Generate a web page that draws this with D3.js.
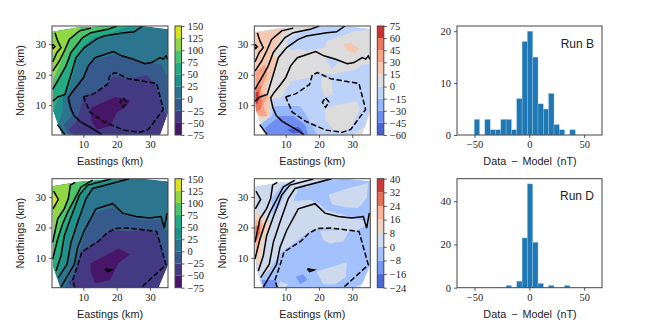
<!DOCTYPE html>
<html>
<head>
<meta charset="utf-8">
<script src="https://cdn.jsdelivr.net/npm/d3@7"></script>
<style>
  html, body { margin: 0; padding: 0; background: white; }
  svg { display: block; }
  .tick text { font-family: "Liberation Serif", serif; font-size: 10.5px; fill: #222; }
  .domain { display: none; }
  .tick line { stroke: #333; stroke-width: 0.8; }
  .lab { font-family: "Liberation Sans", sans-serif; font-size: 10.8px; fill: #222; }
</style>
</head>
<body>
<div id="chart"></div>
<script>
// colour bands, low to high (band midpoints of each colormap)
var viridisBands = [0, 1, 2, 3, 4, 5, 6, 7, 8].map(function(i) { return d3.interpolateViridis((i + .5) / 9) })
var warmBands9 = ["#4a62d2", "#6e8ff1", "#97b7fd", "#bcd2f8", "#dddcdc", "#f5c8b2", "#f6a385", "#e9785d", "#c83232"]
var warmBands8 = ["#4e67d5", "#7698f5", "#a3c1fc", "#cdd9ec", "#eed3c4", "#f7b496", "#e67056", "#cc3c37"]

var levelsField = [-75, -50, -25, 0, 25, 50, 75, 100, 125, 150]
var levelsResB = [-60, -45, -30, -15, 0, 15, 30, 45, 60, 75]
var levelsResD = [-24, -16, -8, 0, 8, 16, 24, 32, 40]

// histograms
var binEdges = [-50.3, -45.4, -40.6, -35.7, -30.9, -26, -21.2, -16.3, -11.5, -6.6, -1.8, 3.1, 7.9, 12.8, 17.6, 22.5, 27.3, 32.2, 37, 41.9]
var countsB = [3, 0, 3, 1, 1, 3, 3, 1, 7, 18, 20, 15, 6, 5, 8, 2, 1, 0, 1]
var countsD = [0, 0, 0, 0, 0, 0, 1, 0, 3, 23, 48, 21, 2, 0, 1, 0, 0, 1, 0]

// contour lines in km, run B
var lineB0 = [[15.5,0.3],[13.5,1.8],[9,4.7],[7.2,6.6],[6.2,9.1],[5.5,12.4],[6.5,14.1],[8.5,16.8],[10,19],[11.5,22.9],[13.5,25.6],[19,27.6],[21.5,26.2],[25,25.1],[28.5,23.6],[30.5,24],[33,25.6],[34,25.1],[34.8,26.2],[35.3,25]]
var lineB1 = [[0.8,11.3],[2.3,12.7],[4.5,13.5],[5.1,15.7],[6.3,20.1],[7.8,25.6],[10.3,28.9],[13.8,31.6],[16.3,32.7],[22.3,33.8],[25.3,34.1],[27.8,36]]
var lineB1b = [[2.2,3.6],[4.5,0.3]]
var lineB2 = [[0.8,15.2],[2.8,19],[4.8,22.9],[6.3,27.3],[9.8,32.2],[12.3,33.8],[17.3,34.9],[20.1,36]]
var lineB3 = [[0.8,21.2],[2.8,24.5],[4.3,27.8],[5.8,31.6],[8.8,34.4],[12.3,35.3]]
var lineB4 = [[0.8,24.2],[2.1,27.3],[3.3,28.9],[2.3,31.1],[1.5,33.8]]
var loopB = [[0.8,30],[1.5,29.2],[1,28.6],[0.6,29.2],[0.8,30]]
var dashB = [[10,12.7],[13,13.7],[17.2,16.8],[18,19.9],[19.5,20.7],[23.5,18.7],[32,17.1],[34,8.6],[29.5,2],[27,1.1],[22,1.8],[16,4.7],[12,7.7],[10,12.7]]
var diamondB = [[22,12.4],[23,11],[22,9.3],[21,11],[22,12.4]]

// contour lines in km, run D
var lineD0 = [[3.3,0.4],[7.3,7.9],[8.3,13.4],[10.3,19],[13.8,26.1],[18.8,27.8],[21.8,24.7],[25.8,23.6],[29.8,23.1],[33.3,23.6],[34.3,19.8],[35.1,24.7]]
var lineD1 = [[2.5,3.5],[5.1,7.9],[6.3,15.1],[8.3,21.7],[10.8,29.5],[12.8,32.8],[17.3,34.1],[23.8,36]]
var lineD2 = [[1.8,5.7],[3.3,10.7],[4.3,17.3],[6.3,23.4],[8.8,30.6],[11.3,33.9],[18.3,35.9]]
var lineD3 = [[0.8,9.6],[2.3,16.2],[3.8,21.2],[5.3,25],[9.3,33.3],[12.8,35.5]]
var lineD4 = [[0.8,15.1],[2.3,22.8],[4.3,26.2],[5.5,29.5],[6.1,33.9],[7.5,34.8]]
var lineD5 = [[1.1,31.9],[2.5,29.2],[0.9,26.1]]
var dashD = [[7.5,0.2],[6.8,2.7],[8.5,8.2],[9.5,11.9],[14.5,15.4],[17,18.1],[19.5,19.6],[23.5,19.8],[32,18.7],[34.8,7.7],[28,0.9],[27,0.2]]
var spotD = [[16.5,6.4],[18.5,6],[17.2,5.5],[16.5,6.4]]

// data hulls
var hullB = [[0.8,34.1],[8.5,35.5],[20,36],[28,36],[35.4,35],[35.4,7.5],[33,0.3],[3.5,0.3],[1,8]]
var hullD = [[0.8,33.5],[9,35],[20,36],[28,36],[35.4,35.2],[35.4,7.7],[32.5,0.2],[3,0.2],[1,7]]

// filled bands, run B total field
var fieldB = [
  [3, hullB],
  [4, [[2.5,3.6],[3.8,8.4],[3.8,12.7],[5.5,14.6],[6.5,18.5],[8.2,25],[11.5,30],[16,32],[23,33.6],[27,35.3],[29,36],[0,36],[0,3.6]]],
  [5, [[1.2,8.5],[2.2,11.3],[4.5,14.1],[5.3,16.8],[6.5,21.2],[8,26.2],[10.5,30],[13,32.2],[19,34],[24,36],[0,36],[0,8.5]]],
  [6, [[0.8,14.6],[3,19],[4.7,22.3],[6.2,27.3],[9.5,31.4],[12.5,33.6],[17,34.7],[20,36],[0,36],[0,14.6]]],
  [7, [[0.8,17.9],[2.8,22.9],[4.5,27.8],[5.7,31.1],[9,34.9],[9,36],[0,36],[0,17.9]]],
  [8, [[0.8,30.5],[2,28.9],[0.8,26.7]]],
  [2, [[5.5,0.3],[4,3.6],[6.5,6.4],[5,11.9],[6.5,14.6],[8.5,17.4],[10,19.6],[11.5,23.1],[14,25],[19,26.7],[23,25.3],[27,24],[33.5,23.4],[34.5,20.7],[35.3,19.6],[35.4,7.5],[33,0.3]]],
  [1, [[5.5,2],[8,4.7],[9,8.6],[10,12.6],[13.5,14],[17,16.5],[19,19.6],[23.5,18.5],[29,19.8],[31.5,17.1],[34,8.6],[35.3,5.8],[34,1.4],[33,0.3],[7,0.3]]],
  [0, [[12.2,9.1],[19.5,12.7],[24,11.6],[23.5,10.2],[20,7.5],[18,3.1],[14,2],[12.5,4.7]]]
]

// filled bands, run B residual
var residB = [
  [4, hullB],
  [3, [[2.8,3.6],[5.1,6.2],[5.8,11.9],[8.8,12.7],[11.8,17.9],[17.3,19],[19.3,20.7],[23.8,20.1],[31.3,21.8],[32.8,23.4],[35.1,23.4],[35.1,8.6],[33.8,3.1],[30.3,0.3],[4.3,0.3]]],
  [3, [[10.1,31.1],[13.5,33.8],[20.3,35.8],[27.8,36],[35.1,35.3],[34.3,34.7],[30.3,34.1],[22.3,31.1],[21.8,28.9],[16.3,27.8],[13.5,28.6],[11.8,27.8]]],
  [3, [[21.8,25.6],[26.8,25.1],[23.8,22]]],
  [4, [[20.8,19],[23.8,19],[24.1,13.5],[21.8,12.7],[20.8,15.7]]],
  [4, [[21.8,5.3],[21.8,9.1],[25.8,10.2],[31.3,11.3],[32.3,8.6],[29.8,3.1],[27.8,1.1],[24.3,2]]],
  [5, [[27.3,30],[29.3,30.5],[32.1,28.6],[30.8,27],[28.8,27.8]]],
  [5, [[0.8,33.8],[9.8,35.2],[7.8,31.1],[5.8,26.7],[7.8,25.1],[6.3,20.1],[4.5,16.8],[4.5,13.5],[6.3,13.2],[5.1,10.2],[5.3,6.4],[2.3,5.8],[1,8]]],
  [6, [[0.8,20.7],[3.8,23.4],[4.5,20.1],[3.3,16.8],[2.3,14.1],[4.8,13.5],[3.3,9.7],[4.5,6.4],[2.5,6.4],[1,8]]],
  [7, [[0.8,15.2],[2.8,16.8],[2.3,13.5],[3.1,11.3],[2.5,8.6],[1.3,8],[0.8,9.7]]],
  [8, [[0.8,14.1],[1.8,14.6],[2,11.9],[1.3,10.2],[0.8,10.8]]],
  [2, [[2.3,3.6],[5.8,6.4],[6.8,9.7],[14.3,9.7],[15.8,7.5],[17.8,3.6],[19.3,0.3],[4.3,0.3]]],
  [1, [[3.8,2.5],[8.3,6.4],[12.3,6.4],[15.8,3.6],[16.8,0.3],[4.8,0.3]]],
  [0, [[10.3,2],[13.8,2.9],[15.3,1.4],[12.3,0.7]]]
]

// filled bands, run D total field
var fieldD = [
  [3, hullD],
  [4, lineD1.concat([[0,36],[0,3.5]])],
  [5, lineD2.concat([[0,36],[0,5.7]])],
  [6, lineD3.concat([[12.8,36],[0,36],[0,9.6]])],
  [7, lineD4.concat([[7.5,36],[0,36],[0,15.1]])],
  [8, [[0.8,31.1],[2.5,29.2],[0.8,26.1]]],
  [2, [[4.5,0.2],[7.5,7.7],[9,13.2],[11,19.8],[13.5,24.7],[18.8,26.7],[22,24.2],[27,22.5],[33,22.5],[34.5,19.2],[35.4,18.7],[35.4,7.7],[32.5,0.2]]],
  [1, [[5.5,2],[7.2,3.3],[8.5,8.2],[9.5,12.3],[14.5,15.6],[16.8,18.1],[19.5,19],[23.5,18.7],[29,19.2],[32,18.1],[34.8,7.9],[35.3,5.5],[34,1.1],[33,0.2],[7.5,0.2]]],
  [0, [[12.2,8.2],[20.5,13],[24,11.2],[20.5,8.2],[18,2.7],[13.5,1.6],[12.2,5.5]]]
]

// filled bands, run D residual
var residD = [
  [3, hullD],
  [2, [[12.3,28.6],[14.3,33.8],[20.3,35.2],[27.8,36],[35.3,35.4],[35.3,22],[31.8,22.5],[27.3,24.2],[21.8,25.8],[20.3,27.5],[17.3,29.1]]],
  [3, [[22.8,30.8],[29.3,33],[34.8,34.6],[34.3,29.7],[31.8,26.4],[27.8,26.6],[23.8,27.7]]],
  [2, [[5.8,29.7],[9.3,34.1],[11.3,34.3],[7.8,26.4],[5.8,24.2]]],
  [2, [[2.3,2.7],[6.8,8.8],[8.8,11.9],[17.3,18.7],[20.3,19.8],[31.3,18.9],[34.3,20.9],[35.3,22],[35.3,7.7],[34.3,2.2],[30.3,0.2],[3.3,0.2]]],
  [3, [[20.3,18.9],[29.3,19.2],[27.3,15.4],[23.3,14.7],[21.3,15.9]]],
  [3, [[19.3,5.5],[28.3,8.6],[28.1,3.8],[24.8,1.3],[21.3,1.3]]],
  [3, [[8.3,2.2],[10.8,1.3],[9.8,0.2],[7.8,0.2]]],
  [1, [[13.1,3.8],[15.3,4.6],[16.5,2.7],[14.3,1.4]]],
  [1, [[2.8,2.7],[7.3,2.7],[7.1,0.2],[3.3,0.2]]],
  [4, [[0.8,25.3],[3.8,23.6],[5.5,21.4],[4.5,17],[3.1,13.7],[3.3,8.8],[1.8,7.1],[0.8,9.9]]],
  [4, [[3.8,7.1],[5.5,6.6],[4.3,5.3]]],
  [4, [[15.1,33.8],[17.8,34.1],[16.3,33]]],
  [5, [[0.8,22.5],[2.8,22],[3.8,19.8],[2.3,15.4],[1.6,11.5],[0.8,11]]],
  [6, [[0.8,20.3],[2.5,21.1],[2.3,18.1],[1.1,15.2],[0.8,15.9]]]
]

var solidB = [lineB0, lineB1, lineB1b, lineB2, lineB3, lineB4, loopB]
var dashedB = [dashB, diamondB]
var solidD = [lineD0, lineD1, lineD2, lineD3, lineD4, lineD5, spotD]
var dashedD = [dashD]

var fullW = 654, fullH = 327
var svg = d3.select("#chart").append("svg").attr("width", fullW).attr("height", fullH)

var rows = [{top: 26, bottom: 135}, {top: 178.7, bottom: 287.7}]
var clipId = 0

function drawAxesFrame(x0, x1, row) {
  return svg.append("rect")
    .attr("x", x0).attr("y", row.top)
    .attr("width", x1 - x0).attr("height", row.bottom - row.top)
    .attr("fill", "none").attr("stroke", "#444").attr("stroke-width", 1)
}

function drawMap(x0, row, layers, hull, bands, solid, dashed, levels) {
  var x1 = x0 + 116
  var x = d3.scaleLinear().domain([0.6, 35.4]).range([x0, x1])
  var y = d3.scaleLinear().domain([0.2, 36]).range([row.bottom, row.top])
  var line = d3.line().x(function(d) { return x(d[0]) }).y(function(d) { return y(d[1]) })

  clipId++
  svg.append("clipPath").attr("id", "hull" + clipId).append("path").attr("d", line(hull) + "Z")
  svg.append("clipPath").attr("id", "box" + clipId).append("rect")
    .attr("x", x0).attr("y", row.top).attr("width", x1 - x0).attr("height", row.bottom - row.top)

  svg.append("g").attr("clip-path", "url(#hull" + clipId + ")")
    .selectAll("path").data(layers).enter().append("path")
      .attr("d", function(d) { return line(d[1]) + "Z" })
      .attr("fill", function(d) { return bands[d[0]] })

  var lines = svg.append("g").attr("clip-path", "url(#box" + clipId + ")")
  lines.selectAll(".solid").data(solid).enter().append("path")
    .attr("class", "solid")
    .attr("d", line).attr("fill", "none")
    .attr("stroke", "black").attr("stroke-width", 1.5)
  lines.selectAll(".dashed").data(dashed).enter().append("path")
    .attr("class", "dashed")
    .attr("d", line).attr("fill", "none")
    .attr("stroke", "black").attr("stroke-width", 1.5).attr("stroke-dasharray", "5.5,2.4")

  drawAxesFrame(x0, x1, row)

  svg.append("g").attr("transform", "translate(0," + row.bottom + ")")
    .call(d3.axisBottom(x).tickValues([10, 20, 30]).tickSize(3).tickPadding(3).tickFormat(d3.format("d")))
  svg.append("g").attr("transform", "translate(" + x0 + ",0)")
    .call(d3.axisLeft(y).tickValues([10, 20, 30]).tickSize(3).tickPadding(3).tickFormat(d3.format("d")))

  svg.append("text").attr("class", "lab").attr("text-anchor", "middle")
    .attr("x", (x0 + x1) / 2).attr("y", row.bottom + 30)
    .text("Eastings (km)")
  svg.append("text").attr("class", "lab").attr("text-anchor", "middle")
    .attr("transform", "translate(" + (x0 - 28) + "," + (row.top + row.bottom) / 2 + ") rotate(-90)")
    .text("Northings (km)")

  // colorbar
  var cx0 = x0 + 123, cx1 = cx0 + 6.5
  var c = d3.scaleLinear().domain([levels[0], levels[levels.length - 1]]).range([row.bottom, row.top])
  svg.append("g").selectAll("rect").data(bands).enter().append("rect")
    .attr("x", cx0).attr("width", cx1 - cx0)
    .attr("y", function(d, i) { return c(levels[i + 1]) })
    .attr("height", function(d, i) { return c(levels[i]) - c(levels[i + 1]) })
    .attr("fill", function(d) { return d })
  drawAxesFrame(cx0, cx1, row)
  svg.append("g").attr("transform", "translate(" + cx1 + ",0)")
    .call(d3.axisRight(c).tickValues(levels).tickSize(3).tickPadding(3).tickFormat(d3.format("d")))
}

function drawHist(row, counts, yTicks, yMax, label) {
  var x0 = 457, x1 = 602
  var x = d3.scaleLinear().domain([-66, 66.3]).range([x0, x1])
  var y = d3.scaleLinear().domain([0, yMax]).range([row.bottom, row.top])

  svg.append("g").selectAll("rect").data(counts).enter().append("rect")
    .attr("x", function(d, i) { return x(binEdges[i]) })
    .attr("width", function(d, i) { return x(binEdges[i + 1]) - x(binEdges[i]) })
    .attr("y", function(d) { return y(d) })
    .attr("height", function(d) { return y(0) - y(d) })
    .attr("fill", "#1f77b4")
    .attr("stroke", "#9cc5e3").attr("stroke-width", 0.4)

  drawAxesFrame(x0, x1, row)

  svg.append("g").attr("transform", "translate(0," + row.bottom + ")")
    .call(d3.axisBottom(x).tickValues([-50, 0, 50]).tickSize(3).tickPadding(3).tickFormat(d3.format("d")))
  svg.append("g").attr("transform", "translate(" + x0 + ",0)")
    .call(d3.axisLeft(y).tickValues(yTicks).tickSize(3).tickPadding(3).tickFormat(d3.format("d")))

  svg.append("text").attr("class", "lab").attr("text-anchor", "middle")
    .attr("x", (x0 + x1) / 2 + 0.5).attr("y", row.bottom + 30)
    .style("word-spacing", "2px")
    .text("Data \u2212 Model (nT)")
  svg.append("text").attr("class", "lab").attr("text-anchor", "end")
    .attr("x", 594).attr("y", row.top + 21.5)
    .style("font-size", "12px")
    .text(label)
}

drawMap(52, rows[0], fieldB, hullB, viridisBands, solidB, dashedB, levelsField)
drawMap(254.3, rows[0], residB, hullB, warmBands9, solidB, dashedB, levelsResB)
drawHist(rows[0], countsB, [0, 10, 20], 21, "Run B")

drawMap(52, rows[1], fieldD, hullD, viridisBands, solidD, dashedD, levelsField)
drawMap(254.3, rows[1], residD, hullD, warmBands8, solidD, dashedD, levelsResD)
drawHist(rows[1], countsD, [0, 20, 40], 50.4, "Run D")
</script>
</body>
</html>
